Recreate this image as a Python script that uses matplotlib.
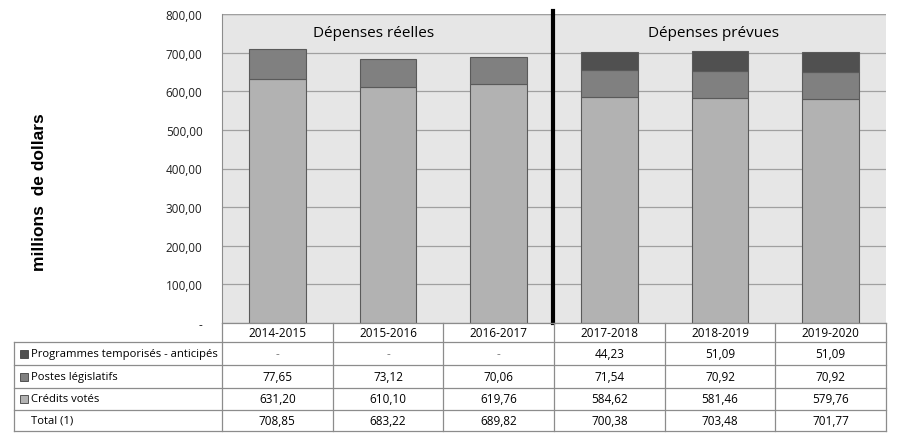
import numpy as np
import matplotlib.pyplot as plt
from matplotlib.patches import Rectangle

# données
annees = ['2014-2015', '2015-2016', '2016-2017', '2017-2018', '2018-2019', '2019-2020']
credits_votes = [631.20, 610.10, 619.76, 584.62, 581.46, 579.76]
postes_legislatifs = [77.65, 73.12, 70.06, 71.54, 70.92, 70.92]
programmes_temp = [0, 0, 0, 44.23, 51.09, 51.09]
totaux = [708.85, 683.22, 689.82, 700.38, 703.48, 701.77]

series_noms = ['Programmes temporisés - anticipés', 'Postes législatifs', 'Crédits votés']
couleurs = ['#505050', '#808080', '#b2b2b2']
y_ticks = [0, 100, 200, 300, 400, 500, 600, 700, 800]


def fmt(v):
    return f"{v:.2f}".replace('.', ',')


W, H = 898, 435
fig = plt.figure(figsize=(W / 100, H / 100), dpi=100)
plt.rcParams['font.family'] = ['Open Sans', 'DejaVu Sans']

# zone du graphique en pixels
left, right, top, bottom = 222, 886, 15, 324
ax = fig.add_axes([left / W, 1 - bottom / H, (right - left) / W, (bottom - top) / H])
ax.set_facecolor('#e6e6e6')

x = np.arange(len(annees))
bw = 0.51
ax.bar(x, credits_votes, bw, color=couleurs[2], edgecolor='#5a5a5a', linewidth=0.8, zorder=3)
ax.bar(x, postes_legislatifs, bw, bottom=credits_votes, color=couleurs[1],
       edgecolor='#5a5a5a', linewidth=0.8, zorder=3)
bas = np.array(credits_votes) + np.array(postes_legislatifs)
ax.bar(x[3:], programmes_temp[3:], bw, bottom=bas[3:], color=couleurs[0],
       edgecolor='#5a5a5a', linewidth=0.8, zorder=3)

ax.set_xlim(-0.5, len(annees) - 0.5)
ax.set_ylim(0, 800)
ax.set_yticks(y_ticks)
ax.set_yticklabels(['-'] + [fmt(v) for v in y_ticks[1:]], fontsize=8.5, color='#202020')
ax.set_xticks([])
ax.tick_params(axis='y', length=0, pad=14)
ax.yaxis.grid(True, color='#a0a0a0', linewidth=0.9, zorder=0)
for s in ['top', 'right', 'bottom']:
    ax.spines[s].set_visible(False)
ax.spines['left'].set_color('#8c8c8c')
ax.axhline(800, color='#8c8c8c', linewidth=0.9, zorder=1)

# séparation réelles / prévues
ax.axvline(2.49, ymin=0, ymax=1.01, color='black', linewidth=3, clip_on=False, zorder=4)
ax.text(0.87, 752, 'Dépenses réelles', ha='center', va='center', fontsize=11, zorder=5)
ax.text(3.94, 752, 'Dépenses prévues', ha='center', va='center', fontsize=11, zorder=5)

fig.text(40 / W, 1 - 192 / H, 'millions  de dollars', rotation=90, ha='center', va='center',
         fontsize=12.5, fontweight='bold', family='Liberation Sans')

# tableau de données sous le graphique
tab = fig.add_axes([0, 0, 1, 1], facecolor='none')
tab.set_xlim(0, W)
tab.set_ylim(H, 0)
tab.axis('off')

gris = '#8c8c8c'
col_w = (right - left) / len(annees)
rows_y = [324, 343, 366, 389, 411, 432]
tab_left = 14

# lignes horizontales
tab.plot([left, right], [rows_y[0]] * 2, color=gris, lw=0.9)
for yy in rows_y[1:]:
    tab.plot([tab_left, right], [yy, yy], color=gris, lw=0.9)
# lignes verticales
tab.plot([left, left], [rows_y[0], rows_y[-1]], color=gris, lw=0.9)
tab.plot([tab_left, tab_left], [rows_y[1], rows_y[-1]], color=gris, lw=0.9)
for i in range(1, len(annees) + 1):
    xx = left + i * col_w
    tab.plot([xx, xx], [rows_y[0], rows_y[-1]], color=gris, lw=0.9)

for i, a in enumerate(annees):
    cx = left + (i + 0.5) * col_w
    tab.text(cx, (rows_y[0] + rows_y[1]) / 2, a, ha='center', va='center', fontsize=8.5)

lignes = [
    [('-' if v == 0 else fmt(v)) for v in programmes_temp],
    [fmt(v) for v in postes_legislatifs],
    [fmt(v) for v in credits_votes],
    [fmt(v) for v in totaux],
]
noms = series_noms + ['Total (1)']
for r, (nom, vals) in enumerate(zip(noms, lignes)):
    cy = (rows_y[r + 1] + rows_y[r + 2]) / 2
    if r < 3:
        tab.add_patch(Rectangle((20, cy - 4), 8, 8, facecolor=couleurs[r],
                                edgecolor='#404040', lw=0.6))
    tab.text(31, cy, nom, ha='left', va='center', fontsize=8.1)
    for i, v in enumerate(vals):
        cx = left + (i + 0.5) * col_w
        tab.text(cx, cy, v, ha='center', va='center', fontsize=8.5,
                 color='#808080' if v == '-' else 'black')

fig.savefig('out.png', dpi=100)
